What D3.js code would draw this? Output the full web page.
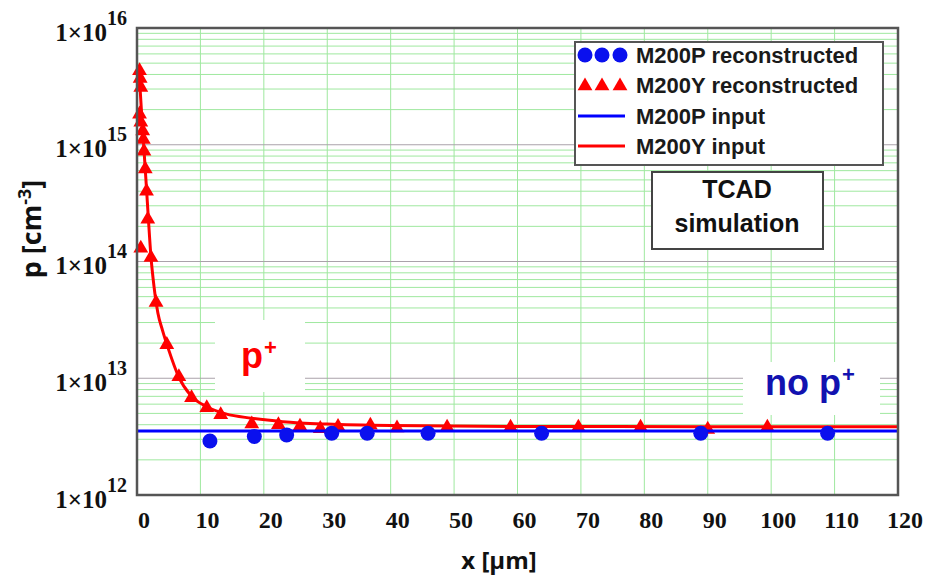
<!DOCTYPE html>
<html>
<head>
<meta charset="utf-8">
<script src="https://cdn.jsdelivr.net/npm/d3@7/dist/d3.min.js"></script>
<style>
  html, body { margin: 0; padding: 0; background: #fff; }
  svg { display: block; }
</style>
</head>
<body>
<svg id="chart" width="926" height="579"></svg>
<script>
// ---------------- DATA ----------------
const xTicks = [0, 10, 20, 30, 40, 50, 60, 70, 80, 90, 100, 110, 120];
const yDecadeExps = [12, 13, 14, 15, 16];

// M200P reconstructed (blue dots)
const m200pRecX = [11.5, 18.5, 23.6, 30.7, 36.3, 45.9, 63.8, 88.9, 108.9];
const m200pRecP = [2.9e12, 3.17e12, 3.27e12, 3.38e12, 3.38e12, 3.38e12, 3.38e12, 3.38e12, 3.38e12];

// M200Y reconstructed (red triangles)
const m200yRecX = [0.4, 0.5, 0.6, 0.4, 0.6, 0.9, 1.0, 1.1, 1.3, 1.5, 1.7, 0.6, 2.2, 3.0, 4.7, 6.6, 8.6, 11.0, 13.2,
                   18.1, 22.3, 25.7, 28.9, 31.7, 36.8, 41.0, 48.9, 58.9, 69.6, 79.4, 90.0, 99.4];
const m200yRecP = [4.3e15, 3.7e15, 3.1e15, 1.83e15, 1.56e15, 1.31e15, 1.11e15, 8.8e14, 6.2e14, 4.0e14, 2.3e14, 1.3e14,
                   1.08e14, 4.45e13, 1.94e13, 1.03e13, 6.8e12, 5.58e12, 4.87e12, 4.05e12, 3.99e12, 3.88e12, 3.7e12,
                   3.86e12, 3.95e12, 3.75e12, 3.8e12, 3.8e12, 3.8e12, 3.8e12, 3.65e12, 3.8e12];

// M200P input (blue line)
const m200pInX = [0, 120];
const m200pInP = [3.54e12, 3.54e12];

// M200Y input (red line)
const m200yInX = [0.2, 0.4, 0.6, 0.8, 1.0, 1.2, 1.5, 1.8, 2.2, 2.7, 3.3, 4.0, 5.0, 6.5, 8.5, 11, 14, 18, 23, 30, 40, 60, 90, 120];
const m200yInP = [4.8e15, 3.6e15, 2.4e15, 1.6e15, 1.1e15, 7.5e14, 4.2e14, 2.3e14, 1.1e14, 6.0e13, 3.6e13, 2.6e13, 1.75e13,
                  1.05e13, 7.1e12, 5.7e12, 4.95e12, 4.55e12, 4.25e12, 4.05e12, 3.93e12, 3.86e12, 3.85e12, 3.85e12];

const legendLabels = ["M200P reconstructed", "M200Y reconstructed", "M200P input", "M200Y input"];

// ---------------- LAYOUT ----------------
const L = 137, R = 898, T = 28, B = 495;
const svg = d3.select("#chart");

const x = d3.scaleLinear().domain([0, 120]).range([L, R]);
const y = d3.scaleLog().domain([1e12, 1e16]).range([B, T]);

const zip = (xs, ps) => xs.map((v, i) => ({x: v, p: ps[i]}));

// ---------------- GRID ----------------
const grid = svg.append("g");
const minorVals = [];
for (let e = 12; e < 16; e++) for (let k = 2; k <= 9; k++) minorVals.push(k * Math.pow(10, e));
grid.selectAll("line.minor").data(minorVals).enter().append("line")
  .attr("x1", L).attr("x2", R)
  .attr("y1", d => y(d)).attr("y2", d => y(d))
  .attr("stroke", "#9fe89f").attr("stroke-width", 1);
grid.selectAll("line.vx").data(xTicks.slice(1, -1)).enter().append("line")
  .attr("x1", d => x(d)).attr("x2", d => x(d))
  .attr("y1", T).attr("y2", B)
  .attr("stroke", "#9fe89f").attr("stroke-width", 1);
grid.selectAll("line.major").data(yDecadeExps.slice(1, -1)).enter().append("line")
  .attr("x1", L).attr("x2", R)
  .attr("y1", d => y(Math.pow(10, d))).attr("y2", d => y(Math.pow(10, d)))
  .attr("stroke", "#aaa2aa").attr("stroke-width", 1.2);

// ---------------- WHITE LABEL BOXES ----------------
svg.append("rect").attr("x", 215).attr("y", 320).attr("width", 90).attr("height", 72).attr("fill", "#fff");
svg.append("text").attr("x", 241).attr("y", 368)
  .attr("font-family", "Liberation Sans, Arial, sans-serif").attr("font-weight", "bold")
  .attr("font-size", 36).attr("fill", "#ff0000")
  .text("p")
  .append("tspan").attr("dy", -13).attr("dx", 1).attr("font-size", 22).text("+");

svg.append("rect").attr("x", 743).attr("y", 362).attr("width", 137).attr("height", 53).attr("fill", "#fff");
svg.append("text").attr("x", 765).attr("y", 395)
  .attr("font-family", "Liberation Sans, Arial, sans-serif").attr("font-weight", "bold")
  .attr("font-size", 36).attr("fill", "#1212b0")
  .text("no p")
  .append("tspan").attr("dy", -13).attr("dx", 1).attr("font-size", 22).text("+");

// ---------------- DATA MARKS ----------------
const line = d3.line().x(d => x(d.x)).y(d => y(d.p)).curve(d3.curveMonotoneX);

svg.append("path").datum(zip(m200yInX, m200yInP))
  .attr("d", line).attr("fill", "none").attr("stroke", "#ff0000").attr("stroke-width", 3);

const tri = d3.symbol().type(d3.symbolTriangle).size(95);
svg.append("g").selectAll("path").data(zip(m200yRecX, m200yRecP)).enter().append("path")
  .attr("d", tri)
  .attr("transform", d => `translate(${x(d.x)},${y(d.p)})`)
  .attr("fill", "#ff0000");

svg.append("path").datum(zip(m200pInX, m200pInP))
  .attr("d", line).attr("fill", "none").attr("stroke", "#0000ff").attr("stroke-width", 3);

svg.append("g").selectAll("circle").data(zip(m200pRecX, m200pRecP)).enter().append("circle")
  .attr("cx", d => x(d.x)).attr("cy", d => y(d.p)).attr("r", 7.5)
  .attr("fill", "#0a10ee");

// ---------------- FRAME ----------------
svg.append("rect").attr("x", L).attr("y", T).attr("width", R - L).attr("height", B - T)
  .attr("fill", "none").attr("stroke", "#555").attr("stroke-width", 2.5);

// ---------------- AXES ----------------
const xAxis = d3.axisBottom(x).tickValues(xTicks).tickSize(0).tickPadding(0).tickFormat(d3.format("d"));
const gx = svg.append("g").attr("transform", `translate(0,${B})`).call(xAxis);
gx.select(".domain").remove();
gx.selectAll("text")
  .attr("dx", 6.5).attr("y", 33).attr("dy", 0)
  .attr("font-family", "Liberation Serif, Times New Roman, serif").attr("font-weight", "bold")
  .attr("font-size", 24).attr("fill", "#111");

const yAxis = d3.axisLeft(y).tickValues(yDecadeExps.map(e => Math.pow(10, e))).tickSize(0).tickFormat(() => "");
const gy = svg.append("g").call(yAxis);
gy.select(".domain").remove();
gy.selectAll(".tick").each(function(d) {
  const g = d3.select(this);
  g.select("text").remove();
  const e = Math.round(Math.log10(d));
  g.append("text").attr("x", 107 - L).attr("y", 12).attr("text-anchor", "end")
    .attr("font-family", "Liberation Serif, Times New Roman, serif").attr("font-weight", "bold")
    .attr("font-size", 25).attr("fill", "#111").text("1\u00d710");
  g.append("text").attr("x", 107 - L).attr("y", -4).attr("text-anchor", "start")
    .attr("font-family", "Liberation Serif, Times New Roman, serif").attr("font-weight", "bold")
    .attr("font-size", 20).attr("fill", "#111").text(e);
});
gy.attr("transform", `translate(${L},0)`);

// Axis titles
svg.append("text").attr("transform", "translate(41,229) rotate(-90)")
  .attr("text-anchor", "middle")
  .attr("font-family", "Open Sans, Liberation Sans, sans-serif").attr("font-weight", "bold")
  .attr("font-size", 27).attr("fill", "#111")
  .text("p [cm")
  .call(t => {
    t.append("tspan").attr("dy", -10).attr("font-size", 18).text("-3");
    t.append("tspan").attr("dy", 10).text("]");
  });

svg.append("text").attr("x", 499).attr("y", 569).attr("text-anchor", "middle")
  .attr("font-family", "Open Sans, Liberation Sans, sans-serif").attr("font-weight", "bold")
  .attr("font-size", 24).attr("fill", "#111")
  .text("x [\u00b5m]");

// ---------------- LEGEND ----------------
const lg = svg.append("g");
lg.append("rect").attr("x", 575).attr("y", 42).attr("width", 308).attr("height", 123)
  .attr("fill", "#fff").attr("stroke", "#555").attr("stroke-width", 2);
const rowY = [55, 85, 116, 146];
const symX = [585, 602, 620];
lg.selectAll("circle").data(symX).enter().append("circle")
  .attr("cx", d => d).attr("cy", rowY[0]).attr("r", 7.5).attr("fill", "#0a10ee");
lg.selectAll("path.tri").data(symX).enter().append("path")
  .attr("d", tri).attr("transform", d => `translate(${d},${rowY[1] + 1})`).attr("fill", "#ff0000");
lg.append("line").attr("x1", 578).attr("x2", 625).attr("y1", rowY[2]).attr("y2", rowY[2])
  .attr("stroke", "#0000ff").attr("stroke-width", 3);
lg.append("line").attr("x1", 578).attr("x2", 625).attr("y1", rowY[3]).attr("y2", rowY[3])
  .attr("stroke", "#ff0000").attr("stroke-width", 3);
lg.selectAll("text").data(legendLabels).enter().append("text")
  .attr("x", 636).attr("y", (d, i) => rowY[i] + 7.5)
  .attr("font-family", "Liberation Sans, Arial, sans-serif").attr("font-weight", "bold")
  .attr("font-size", 22).attr("fill", "#1a1a1a")
  .text(d => d);

// ---------------- TCAD BOX ----------------
svg.append("rect").attr("x", 652).attr("y", 172).attr("width", 171).attr("height", 77)
  .attr("fill", "#fff").attr("stroke", "#444").attr("stroke-width", 2);
svg.append("text").attr("x", 737).attr("y", 198).attr("text-anchor", "middle")
  .attr("font-family", "Liberation Sans, Arial, sans-serif").attr("font-weight", "bold")
  .attr("font-size", 25).attr("fill", "#111").text("TCAD");
svg.append("text").attr("x", 737).attr("y", 232).attr("text-anchor", "middle")
  .attr("font-family", "Liberation Sans, Arial, sans-serif").attr("font-weight", "bold")
  .attr("font-size", 25).attr("fill", "#111").text("simulation");
</script>
</body>
</html>
